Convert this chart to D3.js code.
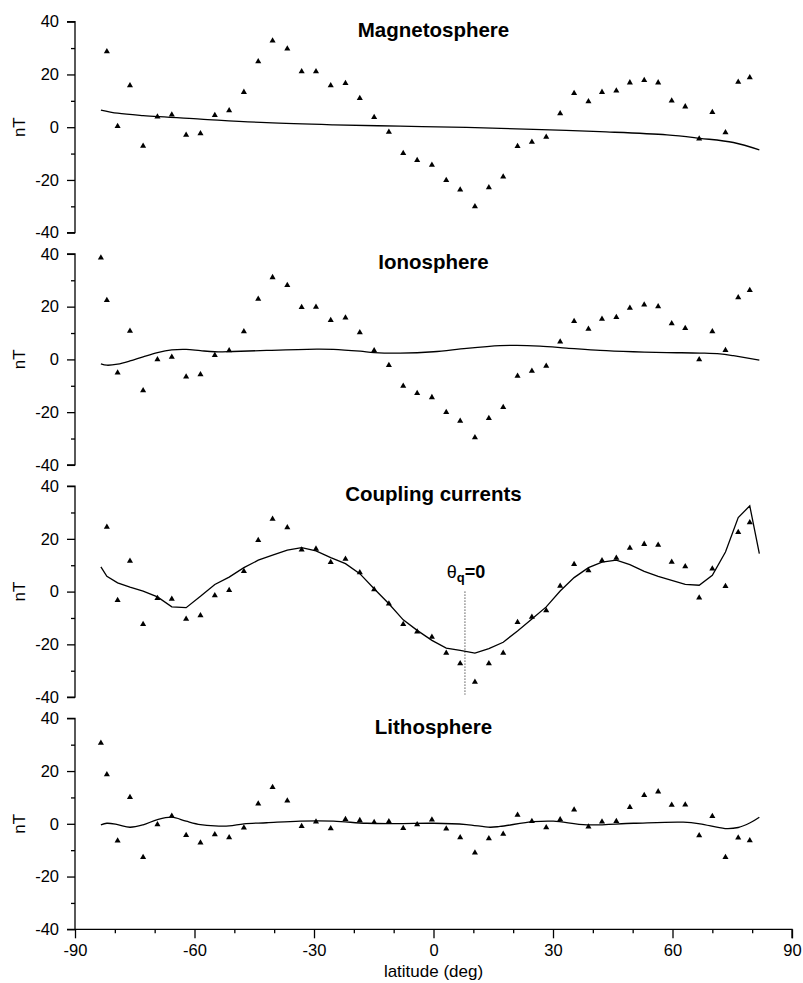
<!DOCTYPE html>
<html>
<head>
<meta charset="utf-8">
<script src="https://cdn.jsdelivr.net/npm/d3@7"></script>
<style>
  html, body { margin: 0; padding: 0; background: #fff; }
  svg { display: block; }
  text { font-family: "Liberation Sans", Arial, Helvetica, sans-serif; fill: #000; }
</style>
</head>
<body>
<svg id="chart" width="803" height="983"></svg>
<script>
// Observation latitudes (deg)
const obsLat = [-83.5, -82.0, -79.3, -76.2, -72.9, -69.3, -65.7, -62.1, -58.5, -54.9,
  -51.3, -47.6, -44.0, -40.4, -36.7, -33.1, -29.5, -25.8, -22.1, -18.5,
  -14.9, -11.2, -7.6, -4.1, -0.4, 3.2, 6.7, 10.4, 13.9, 17.5,
  21.1, 24.7, 28.3, 31.8, 35.3, 38.9, 42.3, 45.9, 49.3, 52.9,
  56.4, 59.8, 63.2, 66.7, 70.0, 73.3, 76.5, 79.4];

// Observed residuals (nT), one per latitude; null where no sample
const magObs = [null, 28.7, 0.4, 15.8, -7.1, 4.0, 4.7, -3.0, -2.4, 4.5,
  6.3, 13.3, 24.9, 32.8, 29.7, 21.1, 21.1, 15.8, 16.7, 11.0,
  3.8, -1.8, -9.9, -12.5, -14.3, -20.1, -23.7, -30.1, -22.9, -18.8,
  -7.2, -5.6, -3.7, 5.2, 12.9, 9.7, 13.3, 13.8, 16.9, 17.8,
  16.9, 10.0, 7.8, -4.4, 5.7, -2.0, 17.1, 18.8];
const ionObs = [38.5, 22.4, -5.1, 10.8, -11.8, 0.0, 0.9, -6.6, -5.7, 1.6,
  3.4, 10.6, 22.9, 31.1, 28.1, 19.8, 19.9, 14.8, 15.8, 10.2,
  3.4, -2.2, -10.1, -12.8, -14.4, -20.0, -23.4, -29.6, -22.3, -18.1,
  -6.3, -4.4, -2.5, 6.7, 14.5, 11.5, 15.3, 16.0, 19.5, 20.7,
  20.1, 13.6, 11.8, 0.0, 10.6, 3.5, 23.5, 26.2];
const cplObs = [null, 24.5, -3.3, 11.6, -12.4, -2.5, -2.8, -10.4, -9.1, -1.5,
  0.5, 7.7, 19.5, 27.5, 24.3, 15.9, 16.2, 11.1, 12.4, 7.2,
  0.8, -4.6, -12.4, -15.2, -17.2, -23.3, -27.3, -34.3, -27.3, -23.3,
  -11.6, -9.6, -7.2, 2.1, 10.4, 8.0, 11.8, 12.7, 16.5, 18.0,
  17.7, 11.2, 9.5, -2.3, 8.7, 2.0, 22.5, 26.2];
const litObs = [30.6, 18.7, -6.4, 10.1, -12.7, -0.3, 3.0, -4.3, -7.2, -4.1,
  -5.2, -1.5, 7.6, 13.9, 8.7, -0.9, 0.8, -1.8, 1.7, 1.3,
  0.6, 0.9, -1.7, -0.3, 1.5, -1.9, -5.2, -11.0, -5.6, -3.9,
  3.3, 1.0, -1.4, 1.6, 5.3, -1.1, 0.8, 1.0, 6.3, 10.8,
  12.2, 7.1, 7.2, -4.4, 2.9, -12.7, -5.3, -6.3];

// Model curves: latitude nodes and modelled field (nT)
const magModelLat = [-83.5, -79.3, -72.9, -58.5, -41.9, -25.1, -8.4, 8.3, 25.1, 41.8, 58.6, 66.9, 75.3, 81.8];
const magModel    = [6.5, 5.3, 4.4, 3.1, 1.7, 0.9, 0.4, -0.1, -0.8, -1.7, -2.9, -4.2, -5.8, -8.6];

const ionModelLat = [-83.5, -82.0, -79.3, -76.2, -72.9, -69.3, -65.7, -62.1, -58.5, -54.9,
  -50.3, -41.9, -29.3, -25.1, -18.4, -14.9, -8.4, 0.0, 8.3, 16.7,
  20.9, 26.7, 33.4, 41.8, 50.2, 58.6, 66.9, 71.9, 75.3, 81.8];
const ionModel    = [-1.7, -2.2, -1.8, -0.6, 1.0, 2.6, 3.6, 3.8, 3.3, 2.9,
  3.0, 3.4, 3.9, 3.8, 3.1, 2.6, 2.4, 2.9, 4.2, 5.2,
  5.3, 5.0, 4.3, 3.4, 2.9, 2.6, 2.4, 2.1, 1.4, -0.3];

const cplModelLat = obsLat.concat([81.8]);
const cplModel    = [9.4, 5.8, 3.3, 1.7, 0.2, -2.0, -5.8, -6.1, -1.8, 2.7,
  5.5, 9.1, 11.9, 13.8, 15.7, 16.7, 15.4, 12.9, 10.6, 6.8,
  1.1, -4.6, -10.7, -14.7, -18.5, -21.4, -22.3, -23.3, -21.6, -19.2,
  -14.9, -10.4, -5.8, 0.2, 5.3, 9.1, 11.2, 11.9, 10.2, 7.7,
  5.8, 4.3, 2.7, 2.4, 6.2, 15.0, 28.1, 32.5, 14.4];

const litModelLat = [-83.5, -82.0, -79.3, -76.2, -72.9, -69.3, -65.7, -62.1, -58.5, -54.9,
  -51.3, -47.6, -41.9, -33.5, -25.1, -16.8, -8.4, 0.0, 8.3, 14.2,
  16.7, 25.1, 30.1, 38.5, 50.2, 62.7, 66.9, 73.2, 76.5, 79.5, 81.8];
const litModel    = [-0.4, 0.2, -0.3, -1.3, -0.4, 1.6, 2.5, 1.0, -0.3, -0.8,
  -0.8, 0.0, 0.4, 1.0, 1.0, 0.2, 0.1, 0.2, -0.3, -1.3,
  -1.0, 0.8, 1.0, -0.4, 0.2, 0.6, 0.0, -1.8, -1.4, 0.4, 2.5];

const panelTitles = ["Magnetosphere", "Ionosphere", "Coupling currents", "Lithosphere"];
const xTicks = [-90, -60, -30, 0, 30, 60, 90];
const yTicks = [-40, -20, 0, 20, 40];
const equatorLat = 7.9; // dip-equator latitude, theta_q = 0

const panels = [
  { title: panelTitles[0], obs: magObs, mLat: magModelLat, m: magModel, curve: d3.curveCatmullRom },
  { title: panelTitles[1], obs: ionObs, mLat: ionModelLat, m: ionModel, curve: d3.curveCatmullRom },
  { title: panelTitles[2], obs: cplObs, mLat: cplModelLat, m: cplModel, curve: d3.curveLinear, marker: true },
  { title: panelTitles[3], obs: litObs, mLat: litModelLat, m: litModel, curve: d3.curveCatmullRom }
];

const svg = d3.select("#chart");
const left = 75, right = 792;
const top0 = 21.7, panelH = 211, panelStep = 232.2;

const x = d3.scaleLinear().domain([-90, 90]).range([left, right]);

const fontTick = "16.5px";
const plain = d => String(d); // hyphen-minus, not the typographic minus

panels.forEach((p, i) => {
  const top = top0 + i * panelStep;
  const y = d3.scaleLinear().domain([-40, 40]).range([top + panelH, top]);
  const g = svg.append("g");

  // y axis: labelled majors, short minors
  const yAxis = d3.axisLeft(y).tickValues(yTicks).tickSize(8).tickPadding(8).tickFormat(plain);
  const ya = g.append("g").attr("transform", `translate(${left},0)`).call(yAxis);
  ya.select(".domain").attr("d", `M-8,${y(40)}H0V${y(-40)}H-8`).attr("stroke-width", 1.3);
  ya.selectAll(".tick line").attr("stroke-width", 1.3);
  ya.selectAll(".tick text").style("font-size", fontTick).style("font-family", "Liberation Sans, Arial, sans-serif");
  const yMinor = d3.axisLeft(y).tickValues([-30, -10, 10, 30]).tickSize(4).tickFormat("");
  const ym = g.append("g").attr("transform", `translate(${left},0)`).call(yMinor);
  ym.select(".domain").remove();
  ym.selectAll(".tick line").attr("stroke-width", 1.3);

  // y label
  g.append("text")
    .attr("transform", `translate(25,${top + panelH / 2}) rotate(-90)`)
    .attr("text-anchor", "middle")
    .style("font-size", "17px")
    .text("nT");

  // title
  g.append("text")
    .attr("x", x(0)).attr("y", top + 15.3)
    .attr("text-anchor", "middle")
    .style("font-size", "20.5px").style("font-weight", "bold")
    .text(p.title);

  // model curve
  const line = d3.line().x((d, k) => x(p.mLat[k])).y(d => y(d)).curve(p.curve);
  g.append("path").datum(p.m)
    .attr("d", line)
    .attr("fill", "none").attr("stroke", "#000").attr("stroke-width", 1.3);

  // observed points
  const tri = d3.symbol(d3.symbolTriangle, 16);
  g.selectAll("path.obs")
    .data(p.obs.map((v, k) => ({ lat: obsLat[k], v })).filter(d => d.v !== null))
    .join("path").attr("class", "obs")
    .attr("d", tri)
    .attr("transform", d => `translate(${x(d.lat)},${y(d.v)})`)
    .attr("fill", "#000");

  if (p.marker) {
    g.append("line")
      .attr("x1", x(equatorLat)).attr("x2", x(equatorLat))
      .attr("y1", y(0)).attr("y2", y(-39))
      .attr("stroke", "#000").attr("stroke-width", 1).attr("stroke-dasharray", "1,2");
    const lbl = g.append("text")
      .attr("x", x(equatorLat) + 1).attr("y", top + 91.5)
      .attr("text-anchor", "middle")
      .style("font-size", "18px");
    lbl.append("tspan").text("θ");
    lbl.append("tspan").attr("dy", 4).style("font-size", "13px").style("font-weight", "bold").text("q");
    lbl.append("tspan").attr("dy", -4).style("font-weight", "bold").text("=0");
  }

  // x axis on the bottom panel only
  if (i === panels.length - 1) {
    const xAxis = d3.axisBottom(x).tickValues(xTicks).tickSize(9).tickPadding(6).tickFormat(plain);
    const xa = g.append("g").attr("transform", `translate(0,${top + panelH})`).call(xAxis);
    xa.select(".domain").attr("d", `M${left},0H${right}V9`).attr("stroke-width", 1.3);
    xa.selectAll(".tick line").attr("stroke-width", 1.3);
    xa.selectAll(".tick text").style("font-size", fontTick).style("font-family", "Liberation Sans, Arial, sans-serif");
    const minor = d3.range(-80, 90, 10).filter(v => v % 30 !== 0);
    const xm = g.append("g").attr("transform", `translate(0,${top + panelH})`)
      .call(d3.axisBottom(x).tickValues(minor).tickSize(4).tickFormat(""));
    xm.select(".domain").remove();
    xm.selectAll(".tick line").attr("stroke-width", 1.3);

    g.append("text")
      .attr("x", x(0)).attr("y", 977)
      .attr("text-anchor", "middle")
      .style("font-size", "17px")
      .text("latitude (deg)");
  }
});
</script>
</body>
</html>
